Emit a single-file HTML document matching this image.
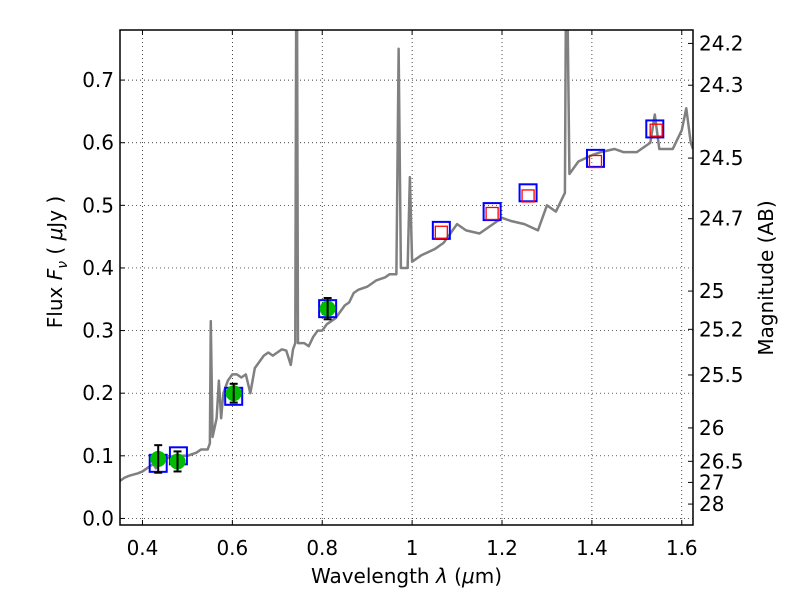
<!DOCTYPE html>
<html><head><meta charset="utf-8"><style>
body{margin:0;background:#fff;}
svg{display:block;font-family:"DejaVu Sans","Liberation Sans",sans-serif;}
</style></head><body>
<svg id="chart" width="800" height="600"></svg>
<script>
const specWave=[0.35,0.36,0.37,0.38,0.39,0.4,0.41,0.42,0.425,0.43,0.44,0.45,0.47,0.5,0.52,0.53,0.545,0.55,0.552,0.556,0.565,0.57,0.575,0.58,0.59,0.6,0.61,0.62,0.63,0.64,0.65,0.66,0.67,0.68,0.69,0.7,0.71,0.72,0.73,0.735,0.74,0.742,0.744,0.746,0.76,0.77,0.78,0.79,0.8,0.81,0.83,0.84,0.85,0.86,0.87,0.88,0.9,0.92,0.94,0.95,0.965,0.97,0.975,0.99,0.995,1.0,1.02,1.05,1.07,1.1,1.12,1.15,1.17,1.2,1.22,1.25,1.28,1.3,1.32,1.34,1.342,1.346,1.35,1.37,1.4,1.42,1.45,1.47,1.5,1.52,1.53,1.54,1.55,1.58,1.6,1.61,1.62,1.625];
const specFlux=[0.06,0.065,0.068,0.07,0.072,0.075,0.08,0.085,0.086,0.08,0.09,0.095,0.1,0.1,0.105,0.11,0.11,0.12,0.315,0.13,0.16,0.22,0.16,0.2,0.22,0.23,0.23,0.225,0.23,0.2,0.24,0.25,0.26,0.265,0.26,0.265,0.27,0.268,0.245,0.27,0.28,0.8,0.8,0.28,0.28,0.275,0.29,0.3,0.3,0.31,0.32,0.33,0.34,0.345,0.36,0.365,0.37,0.38,0.385,0.39,0.39,0.75,0.4,0.4,0.545,0.41,0.42,0.43,0.44,0.47,0.46,0.455,0.465,0.48,0.475,0.47,0.46,0.5,0.49,0.52,0.8,0.8,0.55,0.57,0.58,0.585,0.59,0.585,0.585,0.595,0.6,0.645,0.59,0.59,0.62,0.655,0.6,0.59];
const photWave=[0.435,0.478,0.603,0.812];
const photFlux=[0.095,0.091,0.2,0.335];
const photErr=[0.022,0.016,0.015,0.017];
const modelWave=[0.435,0.48,0.603,0.812,1.065,1.178,1.258,1.408,1.54];
const modelFlux=[0.088,0.1,0.195,0.335,0.46,0.49,0.52,0.575,0.622];
const redWave=[1.065,1.178,1.258,1.408,1.543];
const redFlux=[0.457,0.487,0.515,0.57,0.62];
const xTicks=[0.4,0.6,0.8,1,1.2,1.4,1.6];
const xTickLabels=["0.4","0.6","0.8","1","1.2","1.4","1.6"];
const yTicks=[0,0.1,0.2,0.3,0.4,0.5,0.6,0.7];
const yTickLabels=["0.0","0.1","0.2","0.3","0.4","0.5","0.6","0.7"];
const magTicks=[24.2,24.3,24.5,24.7,25,25.2,25.5,26,26.5,27,28];

const L=120,R=693,T=30,B=525,xmin=0.35,xmax=1.625,ymin=-0.0105,ymax=0.78;
const X=v=>L+(v-xmin)/(xmax-xmin)*(R-L);
const Y=v=>B-(v-ymin)/(ymax-ymin)*(B-T);
const svg=document.getElementById('chart');
const NS='http://www.w3.org/2000/svg';
function mk(tag,attrs,parent){const e=document.createElementNS(NS,tag);for(const k in attrs)e.setAttribute(k,attrs[k]);(parent||svg).appendChild(e);return e;}

const defs=mk('clipPath',{id:'clip'});mk('rect',{x:L,y:T,width:R-L,height:B-T},defs);

const grid=mk('g',{});


xTicks.forEach((v,i)=>{
  mk('line',{x1:X(v),x2:X(v),y1:T,y2:B,stroke:'#000','stroke-width':0.7,'stroke-dasharray':'1,3'},grid);
  mk('line',{x1:X(v),x2:X(v),y1:B,y2:B-5,stroke:'#000'},grid);
  mk('line',{x1:X(v),x2:X(v),y1:T,y2:T+5,stroke:'#000'},grid);
  const t=mk('text',{x:X(v),y:B+30,'text-anchor':'middle','font-size':20});t.textContent=xTickLabels[i];
  
  
});
yTicks.forEach((v,i)=>{
  mk('line',{x1:L,x2:R,y1:Y(v),y2:Y(v),stroke:'#000','stroke-width':0.7,'stroke-dasharray':'1,3'},grid);
  mk('line',{x1:L,x2:L+5,y1:Y(v),y2:Y(v),stroke:'#000'},grid);
  const t=mk('text',{x:L-6,y:Y(v)+7,'text-anchor':'end','font-size':20});t.textContent=yTickLabels[i];
  
  
});
magTicks.forEach(m=>{
  const f=Math.pow(10,(23.9-m)/2.5);
  mk('line',{x1:R-5,x2:R,y1:Y(f),y2:Y(f),stroke:'#000'},grid);
  const t=mk('text',{x:R+6,y:Y(f)+7,'font-size':20});t.textContent=String(m);
  
  
});

const plot=mk('g',{'clip-path':'url(#clip)'});
const spec=mk('polyline',{points:specWave.map((w,i)=>X(w)+','+Y(specFlux[i])).join(' '),fill:'none',stroke:'#808080','stroke-width':2.5,'stroke-linejoin':'round'},plot);


modelWave.forEach((w,i)=>{
  const r=mk('rect',{x:X(w)-8.5,y:Y(modelFlux[i])-8.5,width:17,height:17,fill:'none',stroke:'#0000ff','stroke-width':2},plot);
  
  
});
redWave.forEach((w,i)=>{
  const r=mk('rect',{x:X(w)-6,y:Y(redFlux[i])-6,width:12,height:12,fill:'none',stroke:'#ff0000','stroke-width':1.3},plot);
  
  
});
photWave.forEach((w,i)=>{
  const g=mk('g',{},plot);
  
  
  mk('circle',{cx:X(w),cy:Y(photFlux[i]),r:8,fill:'#00bb00'},g);
  const y1=Y(photFlux[i]+photErr[i]),y2=Y(photFlux[i]-photErr[i]);
  mk('line',{x1:X(w),x2:X(w),y1:y1,y2:y2,stroke:'#000','stroke-width':2},g);
  mk('line',{x1:X(w)-4,x2:X(w)+4,y1:y1,y2:y1,stroke:'#000','stroke-width':2},g);
  mk('line',{x1:X(w)-4,x2:X(w)+4,y1:y2,y2:y2,stroke:'#000','stroke-width':2},g);
});

const frame=mk('rect',{x:L,y:T,width:R-L,height:B-T,fill:'none',stroke:'#000','stroke-width':1.5});



const xl=mk('text',{x:(L+R)/2,y:583,'text-anchor':'middle','font-size':20});
xl.innerHTML='Wavelength  <tspan font-style="italic">λ</tspan> (<tspan font-style="italic">μ</tspan>m)';


const yl=mk('text',{x:0,y:0,'text-anchor':'middle','font-size':20,transform:'translate(62,262) rotate(-90)'});
yl.innerHTML='Flux  <tspan font-style="italic">F</tspan><tspan font-style="italic" font-size="14" dy="5">ν</tspan><tspan dy="-5">  ( </tspan><tspan font-style="italic">μ</tspan>Jy )';


const rl=mk('text',{x:0,y:0,'text-anchor':'middle','font-size':20,transform:'translate(773,278) rotate(-90)'});
rl.textContent='Magnitude (AB)';


</script>
</body></html>
